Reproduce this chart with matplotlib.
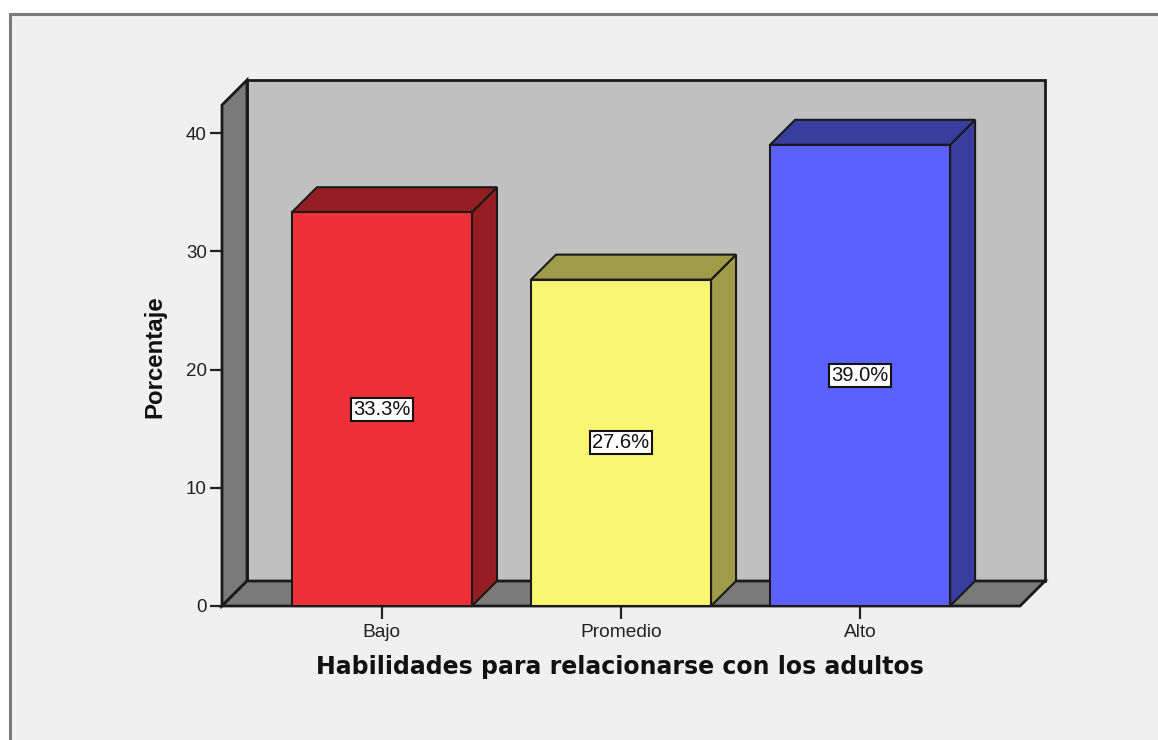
import matplotlib
matplotlib.use("Agg")
import matplotlib.pyplot as plt
from matplotlib.patches import Polygon, Rectangle

categories = ["Bajo", "Promedio", "Alto"]
values = [33.3, 27.6, 39.0]
value_labels = ["33.3%", "27.6%", "39.0%"]
yticks = [0, 10, 20, 30, 40]
front_colors = ["#F03039", "#FAF674", "#5B61FF"]
side_colors = ["#951E22", "#9F9B48", "#393D9E"]

W, H = 1158, 740
fig = plt.figure(figsize=(W / 100, H / 100), dpi=100, facecolor="white")

# outer frame
fig.patches.append(Rectangle((9.5 / W, -0.1), 1.2, (740 - 13.5) / H + 0.1,
                             transform=fig.transFigure, facecolor="#F0F0F0",
                             edgecolor="#7A7A7A", lw=2.2, zorder=-5))

ax = fig.add_axes([222 / W, (740 - 606) / H, (1020 - 222) / W, (606 - 105) / H])
ax.set_zorder(2)
ax.set_facecolor("none")
for s in ax.spines.values():
    s.set_visible(False)

ymax = (606 - 105) / 11.825
xl, xr = -0.669, 2.669
ax.set_xlim(xl, xr)
ax.set_ylim(0, ymax)

# depth in data units (25 px)
DX = 25 / 239.0
DY = 25 / 11.825
bw = 180 / 239.0
ec = "#1A1A1A"

# back wall
ax.add_patch(Polygon([(xl + DX, DY), (xr + DX, DY), (xr + DX, ymax + DY), (xl + DX, ymax + DY)],
                     closed=True, facecolor="#C0C0C0", edgecolor=ec, lw=2, clip_on=False, zorder=1))
# left wall
ax.add_patch(Polygon([(xl, 0), (xl + DX, DY), (xl + DX, ymax + DY), (xl, ymax)],
                     closed=True, facecolor="#7A7A7A", edgecolor=ec, lw=2, clip_on=False, zorder=2))
# floor
ax.add_patch(Polygon([(xl, 0), (xr, 0), (xr + DX, DY), (xl + DX, DY)],
                     closed=True, facecolor="#7A7A7A", edgecolor=ec, lw=2, clip_on=False, zorder=2))

xs = list(range(len(categories)))
for i, (x, v) in enumerate(zip(xs, values)):
    l, r = x - bw / 2, x + bw / 2
    ax.add_patch(Polygon([(r, 0), (r + DX, DY), (r + DX, v + DY), (r, v)], closed=True,
                         facecolor=side_colors[i], edgecolor=ec, lw=1.5, clip_on=False, zorder=3))
    ax.add_patch(Polygon([(l, v), (l + DX, v + DY), (r + DX, v + DY), (r, v)], closed=True,
                         facecolor=side_colors[i], edgecolor=ec, lw=1.5, clip_on=False, zorder=3))
ax.bar(xs, values, width=bw, color=front_colors, edgecolor=ec, lw=1.5, zorder=4, clip_on=False)

for x, v, t in zip(xs, values, value_labels):
    ax.text(x, v / 2, t, ha="center", va="center", fontsize=14.5, family="Liberation Sans",
            color="#111111", zorder=6,
            bbox=dict(boxstyle="square,pad=0.1", facecolor="white", edgecolor="#111111", lw=1.5))

ax.set_yticks(yticks)
ax.set_yticklabels([str(t) for t in yticks], fontsize=13.5, family="Liberation Sans", color="#222222")
ax.set_xticks(xs)
ax.set_xticklabels(categories, fontsize=13.8, family="Liberation Sans", color="#222222")
ax.tick_params(axis="y", length=9, width=1.6, pad=2, color="#222222")
ax.tick_params(axis="x", length=9, width=1.6, pad=4, color="#222222")

fig.text(620 / W, 1 - 667 / H, "Habilidades para relacionarse con los adultos", ha="center",
         va="center", fontsize=17, fontweight="bold", family="DejaVu Sans", color="#111111")
fig.text(155 / W, 1 - 357 / H, "Porcentaje", ha="center", va="center", rotation=90,
         fontsize=17.3, fontweight="bold", family="Liberation Sans", color="#111111")

fig.savefig("out.png", dpi=100, facecolor=fig.get_facecolor())
